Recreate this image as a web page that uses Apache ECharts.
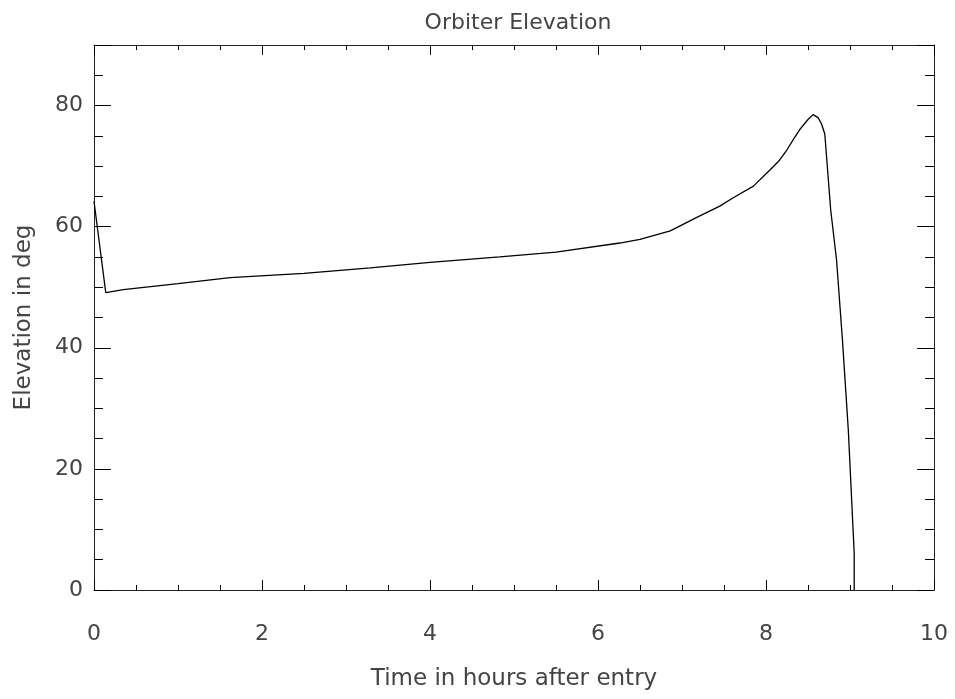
<!DOCTYPE html>
<html>
<head>
<meta charset="utf-8">
<script src="https://cdn.jsdelivr.net/npm/echarts@6/dist/echarts.min.js"></script>
<style>
html,body{margin:0;padding:0;background:#fff;}
#chart{width:955px;height:699px;}
</style>
</head>
<body>
<div id="chart"></div>
<script>
// Time in hours after entry
var timeHours = [0, 0.14, 0.35, 1.0, 1.62, 2.5, 3.29, 4.0, 4.83, 5.5, 6.26, 6.5, 6.86, 7.2, 7.45, 7.6, 7.85, 8.05, 8.15, 8.25, 8.33, 8.40, 8.50, 8.56, 8.62, 8.66, 8.70, 8.77, 8.84, 8.91, 8.98, 9.05, 9.05];
// Elevation in degrees
var elevationDeg = [64.2, 49.1, 49.6, 50.6, 51.6, 52.3, 53.2, 54.1, 55.0, 55.8, 57.3, 57.9, 59.3, 61.7, 63.4, 64.7, 66.7, 69.4, 70.8, 72.7, 74.5, 76.0, 77.7, 78.5, 78.0, 77.0, 75.3, 62.8, 54.5, 41.3, 26.4, 6.1, 0];

var title = 'Orbiter Elevation';
var xName = 'Time in hours after entry';
var yName = 'Elevation in deg';

var pts = timeHours.map(function (t, i) { return [t, elevationDeg[i]]; });

var font = 'DejaVu Sans';
var txt = '#444';
var chart = echarts.init(document.getElementById('chart'), null, {renderer: 'canvas'});
var lineStyleAxis = {color: '#222', width: 1};
function axisCommon(extra) {
  var o = {
    type: 'value',
    axisLine: {show: true, onZero: false, lineStyle: lineStyleAxis},
    splitLine: {show: false}
  };
  for (var k in extra) o[k] = extra[k];
  return o;
}
chart.setOption({
  animation: false,
  backgroundColor: '#fff',
  title: {
    text: title, left: 513, top: 7, textAlign: 'center',
    textStyle: {fontFamily: font, fontSize: 22, fontWeight: 'normal', color: txt}
  },
  grid: {left: 94, right: 21, top: 45, bottom: 109, containLabel: false},
  xAxis: [axisCommon({
    position: 'bottom', min: 0, max: 10, interval: 2,
    name: xName, nameLocation: 'middle', nameGap: 78,
    nameTextStyle: {fontFamily: font, fontSize: 23, color: txt},
    axisTick: {show: true, inside: true, length: 10, lineStyle: {color: '#000'}},
    minorTick: {show: true, splitNumber: 4, length: 5, lineStyle: {color: '#000'}},
    axisLabel: {fontFamily: font, fontSize: 22, color: txt, margin: 33}
  }), axisCommon({
    position: 'top', min: 0, max: 10, interval: 2,
    axisTick: {show: true, inside: true, length: 10, lineStyle: {color: '#000'}},
    minorTick: {show: true, splitNumber: 4, length: 5, lineStyle: {color: '#000'}},
    axisLabel: {show: false}
  })],
  yAxis: [axisCommon({
    position: 'left', min: 0, max: 90, interval: 20,
    name: yName, nameLocation: 'middle', nameGap: 58,
    nameTextStyle: {fontFamily: font, fontSize: 23, color: txt},
    axisTick: {show: true, inside: true, length: 17, lineStyle: {color: '#000'}},
    minorTick: {show: true, splitNumber: 4, length: 9, lineStyle: {color: '#000'}},
    axisLabel: {fontFamily: font, fontSize: 22, color: txt, margin: 11,
      formatter: function (v) { return v > 80 ? '' : v; }}
  }), axisCommon({
    position: 'right', min: 0, max: 90, interval: 20,
    axisTick: {show: true, inside: true, length: 17, lineStyle: {color: '#000'}},
    minorTick: {show: true, splitNumber: 4, length: 9, lineStyle: {color: '#000'}},
    axisLabel: {show: false}
  })],
  series: [{
    type: 'line', xAxisIndex: 0, yAxisIndex: 0,
    data: pts, showSymbol: false, symbol: 'none', smooth: false,
    lineStyle: {color: '#000', width: 1.3}
  }]
});
</script>
</body>
</html>
